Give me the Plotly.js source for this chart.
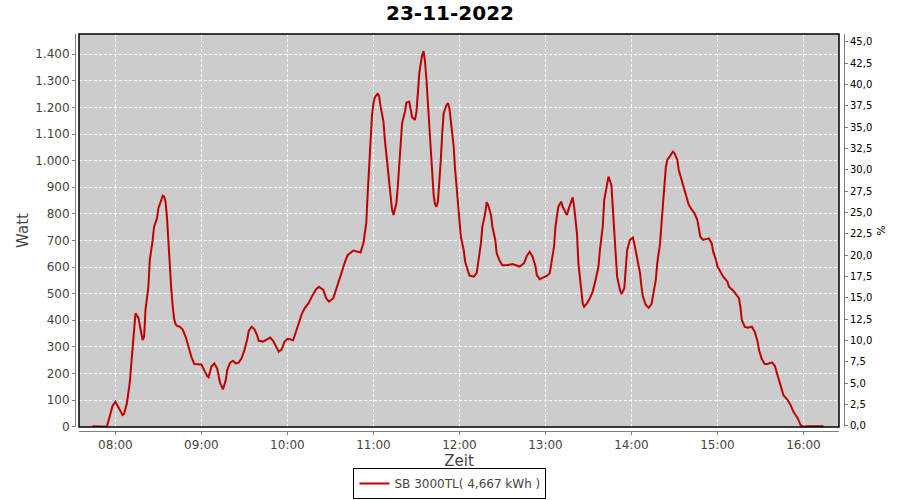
<!DOCTYPE html>
<html>
<head>
<meta charset="utf-8">
<script src="https://cdn.plot.ly/plotly-3.0.1.min.js"></script>
<style>html,body{margin:0;padding:0;background:#fff;}#chart{width:900px;height:500px;}</style>
</head>
<body>
<div id="chart"></div>
<script>
const day = '2022-11-23';
const chartTitle = '23-11-2022';
const seriesName = 'SB 3000TL( 4,667 kWh )';

const times = [
'07:44','07:49','07:54','07:56','07:58','08:00','08:02','08:05','08:06','08:08',
'08:10','08:12','08:13','08:14','08:16','08:18','08:19','08:20','08:21','08:23',
'08:24','08:26','08:27','08:29','08:30','08:32','08:33','08:34','08:35','08:36',
'08:37','08:38','08:39','08:40','08:41','08:42','08:43','08:45','08:47','08:49',
'08:51','08:53','08:55','08:58','09:00','09:02','09:04','09:05','09:07','09:09',
'09:11','09:13','09:15','09:17','09:18','09:20','09:22','09:24','09:26','09:28',
'09:30','09:32','09:33','09:35','09:37','09:39','09:40','09:43','09:46','09:48',
'09:50','09:52','09:54','09:56','09:58','10:00','10:02','10:04','10:06','10:08',
'10:10','10:12','10:15','10:17','10:20','10:22','10:25','10:27','10:29','10:32',
'10:34','10:36','10:38','10:40','10:42','10:46','10:50','10:51','10:53','10:55',
'10:56','10:57','10:58','10:59','11:00','11:01','11:03','11:04','11:05','11:07',
'11:08','11:10','11:12','11:13','11:14','11:16','11:17','11:18','11:19','11:20',
'11:22','11:23','11:25','11:26','11:27','11:29','11:30','11:31','11:32','11:33',
'11:34','11:35','11:36','11:37','11:38','11:39','11:40','11:41','11:42','11:43',
'11:44','11:45','11:46','11:47','11:48','11:49','11:51','11:52','11:53','11:54',
'11:56','11:57','11:58','11:59','12:00','12:01','12:03','12:04','12:06','12:07',
'12:10','12:12','12:13','12:15','12:16','12:18','12:19','12:20','12:22','12:23',
'12:25','12:26','12:28','12:30','12:33','12:37','12:42','12:45','12:47','12:49',
'12:51','12:53','12:54','12:56','12:59','13:01','13:03','13:04','13:06','13:07',
'13:09','13:11','13:12','13:14','13:15','13:16','13:18','13:19','13:20','13:22',
'13:23','13:25','13:26','13:27','13:29','13:31','13:33','13:35','13:37','13:38',
'13:40','13:41','13:43','13:44','13:46','13:47','13:48','13:49','13:50','13:52',
'13:53','13:55','13:56','13:57','13:59','14:01','14:02','14:04','14:06','14:07',
'14:08','14:10','14:12','14:14','14:15','14:17','14:18','14:20','14:21','14:22',
'14:23','14:24','14:25','14:27','14:29','14:30','14:32','14:33','14:35','14:37',
'14:39','14:40','14:42','14:44','14:46','14:47','14:48','14:50','14:53','14:54',
'14:56','14:57','14:59','15:00','15:02','15:04','15:07','15:08','15:11','15:13',
'15:15','15:16','15:17','15:19','15:21','15:24','15:26','15:28','15:29','15:31',
'15:33','15:35','15:38','15:40','15:42','15:44','15:46','15:49','15:51','15:53',
'15:56','15:58','16:00','16:03','16:14'
];

const watt = [
2,0,0,38,78,94,75,44,48,88,
165,288,376,426,410,351,326,338,439,526,
627,702,752,783,821,852,868,865,845,785,
685,590,515,451,405,385,379,376,364,338,
301,263,236,236,234,212,190,186,226,238,
219,165,140,175,213,240,248,238,241,257,
288,329,360,376,366,342,323,320,330,335,
323,301,282,291,320,330,329,325,357,389,
423,445,466,489,517,526,514,483,470,483,
514,545,583,617,645,662,658,655,689,765,
877,977,1103,1170,1215,1238,1253,1241,1203,1147,
1078,977,877,815,796,840,902,990,1078,1141,
1184,1218,1222,1191,1163,1153,1184,1253,1330,1365,
1397,1412,1372,1303,1216,1103,1015,940,871,835,
827,846,915,1003,1103,1178,1209,1216,1197,1141,
1053,965,900,840,790,714,664,620,585,568,
564,577,614,689,752,802,844,834,796,752,
702,652,624,607,607,611,602,614,642,657,
639,604,570,554,562,567,577,608,677,752,
827,846,827,805,796,815,846,862,827,727,
614,526,464,451,464,483,508,552,602,664,
752,852,921,940,909,827,739,639,564,514,
499,520,589,664,702,711,689,627,577,526,
489,458,447,461,495,552,614,690,765,850,
920,975,1003,1021,1034,1028,1003,965,927,890,
859,834,817,802,777,739,714,702,705,708,
689,658,627,602,583,564,545,526,511,498,
483,451,401,376,372,376,357,320,288,253,
236,236,242,229,194,157,119,100,82,56,
32,6,0,2,2
];

const xRange = ['07:34:36', '16:24:48'];
const pctRange = [-0.15, 45.9];
const wattRange = [-1, 1476];

const fontFam = 'DejaVu Sans, Verdana, sans-serif';
const xd = [0.0052, 0.9935];
const yd = [0.0101, 1];

const traces = [
  {
    x: times.map(t => day + ' ' + t),
    y: watt,
    type: 'scatter',
    mode: 'lines',
    name: seriesName,
    line: {color: '#c00000', width: 2},
    hoverinfo: 'skip'
  },
  {
    x: [], y: [], type: 'scatter', mode: 'lines', yaxis: 'y2',
    showlegend: false, hoverinfo: 'skip'
  }
];

const layout = {
  width: 900, height: 500,
  margin: {l: 75, r: 56, t: 34, b: 69, pad: 0, autoexpand: false},
  paper_bgcolor: '#ffffff',
  plot_bgcolor: '#cccccc',
  separators: ',.',
  font: {family: fontFam, color: '#444444'},
  title: {
    text: chartTitle,
    font: {family: fontFam, size: 20, color: '#000000', weight: 'bold'},
    xref: 'container', x: 0.5, xanchor: 'center',
    yref: 'container', y: 0.974, yanchor: 'middle'
  },
  xaxis: {
    type: 'date',
    domain: xd,
    anchor: 'free', position: 0,
    range: xRange.map(t => day + ' ' + t),
    tick0: day + ' 08:00', dtick: 3600000,
    tickformat: '%H:%M',
    showgrid: true, gridcolor: '#ffffff', gridwidth: 1, griddash: '3px,2px',
    zeroline: false,
    showline: true, linecolor: '#808080', linewidth: 1,
    ticks: 'outside', ticklen: 3, tickcolor: '#808080',
    tickfont: {family: fontFam, size: 12, color: '#444444'},
    automargin: false,
    title: {text: 'Zeit', font: {family: fontFam, size: 15, color: '#444444'}, standoff: 4}
  },
  yaxis: {
    domain: yd,
    anchor: 'free', position: 0,
    range: wattRange,
    tick0: 0, dtick: 100,
    tickformat: ',d',
    showgrid: true, gridcolor: '#ffffff', gridwidth: 1, griddash: '3px,2px',
    zeroline: false,
    showline: true, linecolor: '#808080', linewidth: 1,
    ticks: 'outside', ticklen: 3, tickcolor: '#808080',
    tickfont: {family: fontFam, size: 12, color: '#444444'},
    automargin: false,
    title: {text: 'Watt', font: {family: fontFam, size: 15, color: '#444444'}, standoff: 1}
  },
  yaxis2: {
    overlaying: 'y',
    side: 'right',
    anchor: 'free', position: 1,
    range: pctRange,
    tick0: 0, dtick: 2.5,
    tickformat: '.1f',
    showgrid: false, zeroline: false,
    showline: true, linecolor: '#808080', linewidth: 1,
    ticks: 'outside', ticklen: 3, tickcolor: '#808080',
    tickfont: {family: fontFam, size: 10, color: '#000000'},
    automargin: false,
    title: {text: '%', font: {family: fontFam, size: 11, color: '#000000'}, standoff: 6}
  },
  shapes: [
    {type: 'rect', xref: 'paper', yref: 'paper', x0: xd[0], x1: xd[1], y0: yd[0], y1: yd[1],
     line: {color: '#000000', width: 1.5}, fillcolor: 'rgba(0,0,0,0)', layer: 'above'}
  ],
  showlegend: true,
  legend: {
    orientation: 'h',
    x: 0.4876, xanchor: 'center', xref: 'paper',
    y: -0.1713, yanchor: 'bottom', yref: 'paper',
    bordercolor: '#000000', borderwidth: 1, bgcolor: '#ffffff',
    font: {family: fontFam, size: 12, color: '#444444'},
    itemwidth: 30
  }
};

Plotly.newPlot('chart', traces, layout, {staticPlot: true, displayModeBar: false});
</script>
</body>
</html>
